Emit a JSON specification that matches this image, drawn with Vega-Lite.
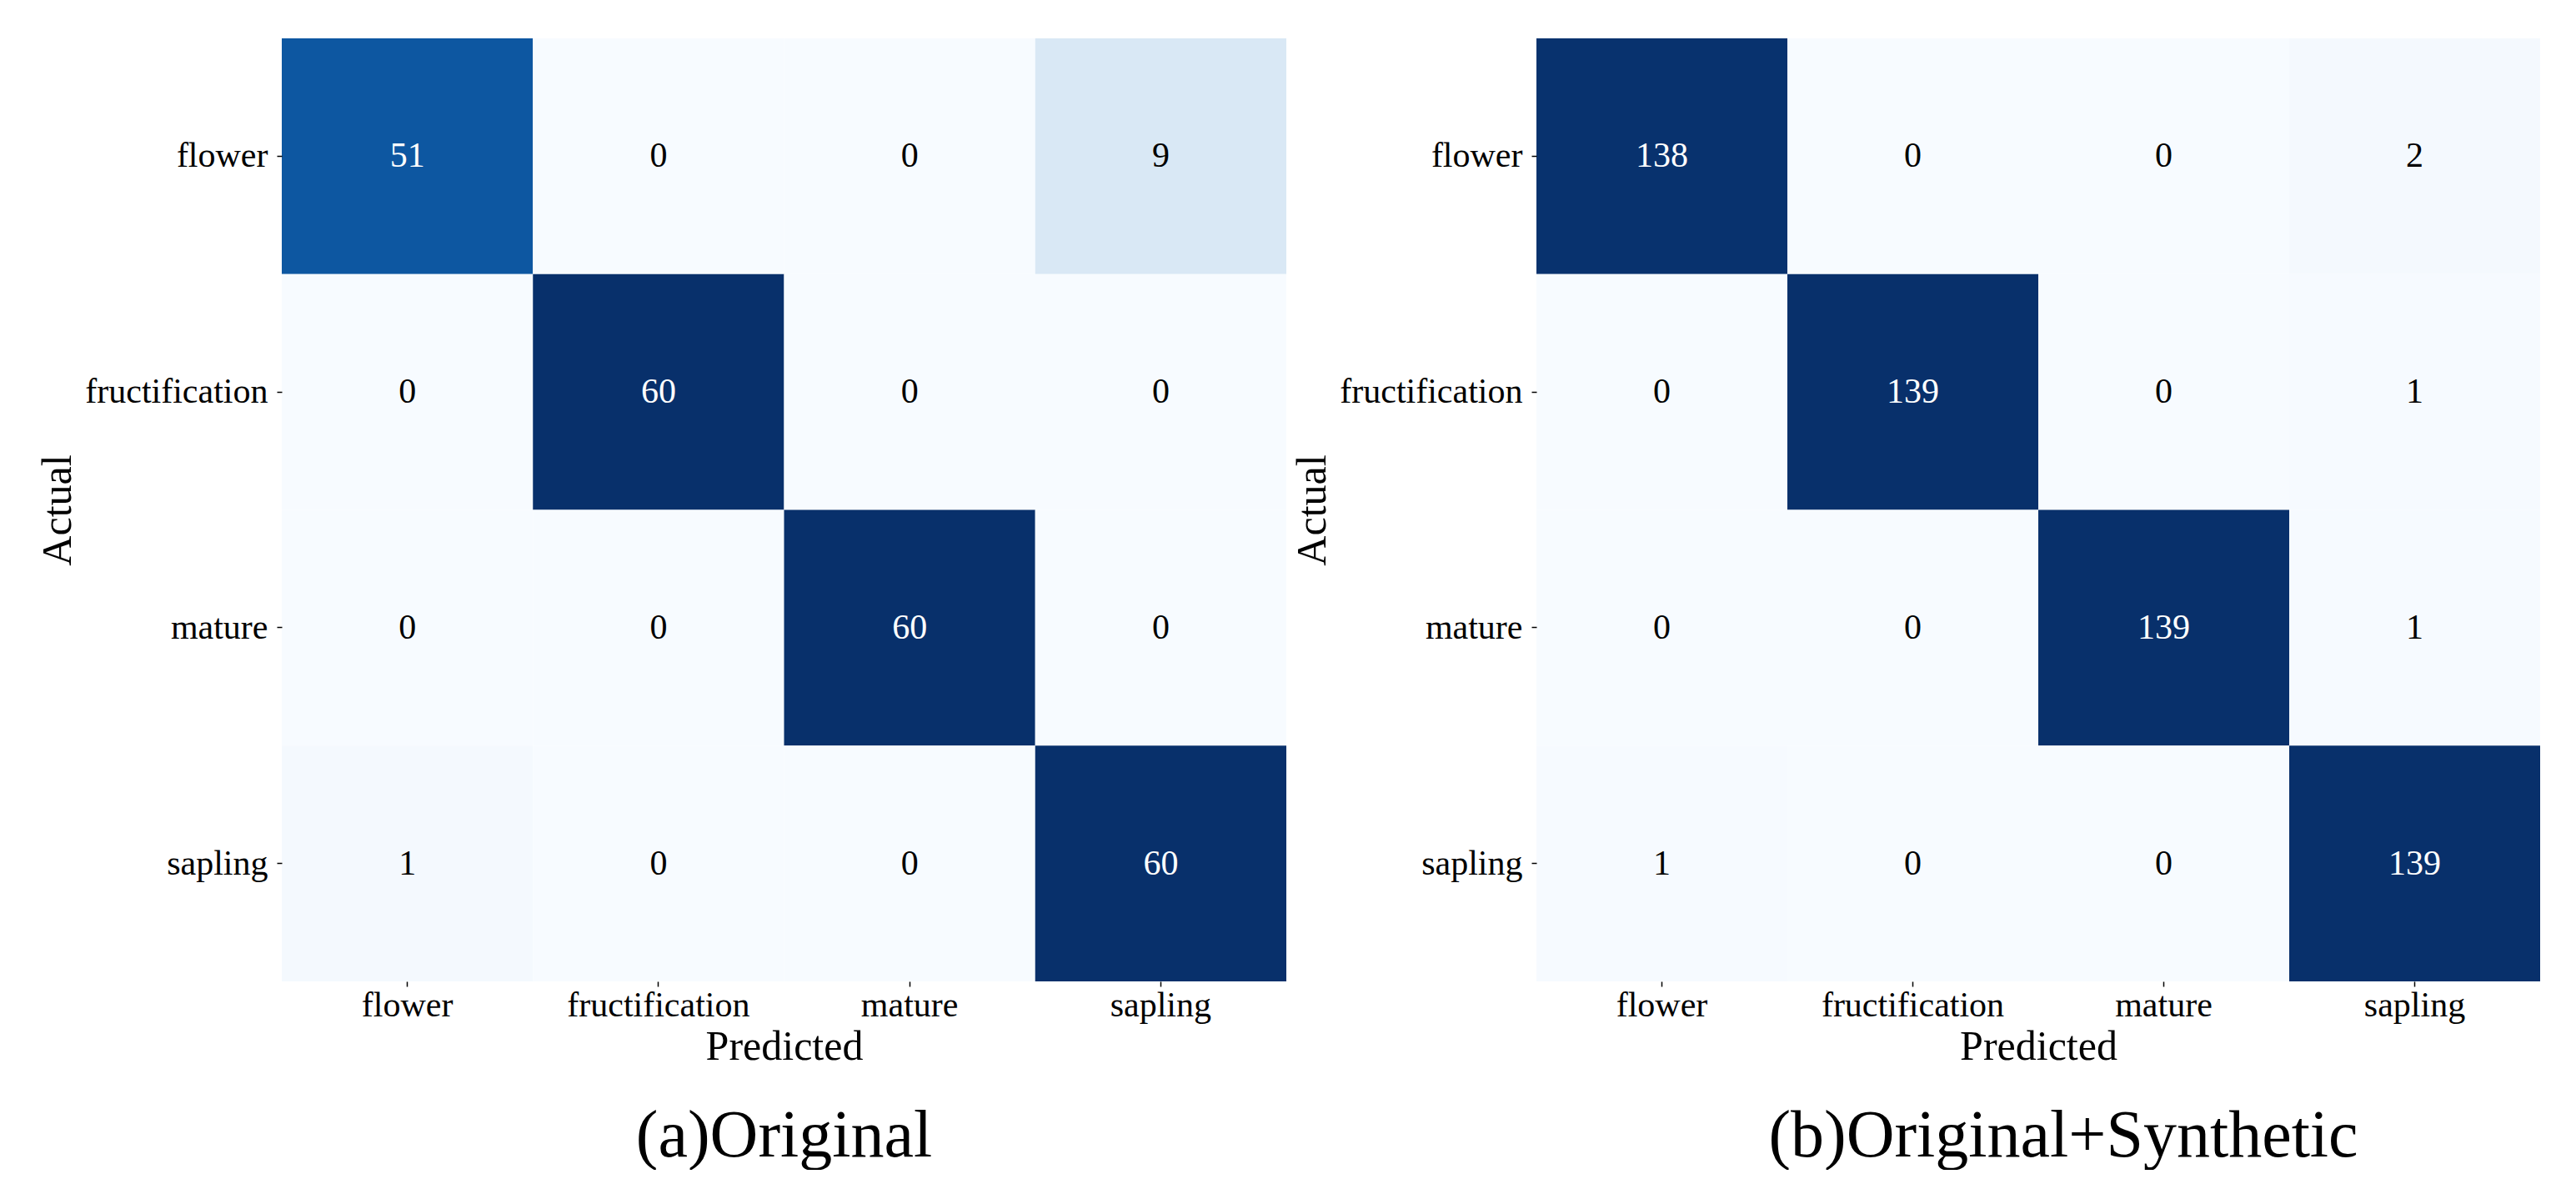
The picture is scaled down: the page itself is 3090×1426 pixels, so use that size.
{
  "$schema": "https://vega.github.io/schema/vega-lite/v6.json",
  "background": "white",
  "padding": {"left": 44, "top": 46, "right": 0, "bottom": 0},
  "config": {
    "font": "Liberation Serif",
    "view": {"stroke": null},
    "concat": {"spacing": 6},
    "axis": {
      "domain": false,
      "grid": false,
      "tickSize": 6,
      "tickColor": "black",
      "tickWidth": 1.5,
      "labelFont": "Liberation Serif",
      "labelFontSize": 42,
      "labelColor": "black",
      "labelLimit": 0,
      "titleFont": "Liberation Serif",
      "titleFontSize": 50,
      "titleFontWeight": "normal",
      "titleColor": "black"
    },
    "axisX": {"labelPadding": 2, "titlePadding": 4, "labelAngle": 0},
    "axisY": {"labelPadding": 11, "titlePadding": 44}
  },
  "datasets": {
    "a": [
      {"actual": "flower", "predicted": "flower", "count": 51},
      {"actual": "flower", "predicted": "fructification", "count": 0},
      {"actual": "flower", "predicted": "mature", "count": 0},
      {"actual": "flower", "predicted": "sapling", "count": 9},
      {"actual": "fructification", "predicted": "flower", "count": 0},
      {"actual": "fructification", "predicted": "fructification", "count": 60},
      {"actual": "fructification", "predicted": "mature", "count": 0},
      {"actual": "fructification", "predicted": "sapling", "count": 0},
      {"actual": "mature", "predicted": "flower", "count": 0},
      {"actual": "mature", "predicted": "fructification", "count": 0},
      {"actual": "mature", "predicted": "mature", "count": 60},
      {"actual": "mature", "predicted": "sapling", "count": 0},
      {"actual": "sapling", "predicted": "flower", "count": 1},
      {"actual": "sapling", "predicted": "fructification", "count": 0},
      {"actual": "sapling", "predicted": "mature", "count": 0},
      {"actual": "sapling", "predicted": "sapling", "count": 60}
    ],
    "b": [
      {"actual": "flower", "predicted": "flower", "count": 138},
      {"actual": "flower", "predicted": "fructification", "count": 0},
      {"actual": "flower", "predicted": "mature", "count": 0},
      {"actual": "flower", "predicted": "sapling", "count": 2},
      {"actual": "fructification", "predicted": "flower", "count": 0},
      {"actual": "fructification", "predicted": "fructification", "count": 139},
      {"actual": "fructification", "predicted": "mature", "count": 0},
      {"actual": "fructification", "predicted": "sapling", "count": 1},
      {"actual": "mature", "predicted": "flower", "count": 0},
      {"actual": "mature", "predicted": "fructification", "count": 0},
      {"actual": "mature", "predicted": "mature", "count": 139},
      {"actual": "mature", "predicted": "sapling", "count": 1},
      {"actual": "sapling", "predicted": "flower", "count": 1},
      {"actual": "sapling", "predicted": "fructification", "count": 0},
      {"actual": "sapling", "predicted": "mature", "count": 0},
      {"actual": "sapling", "predicted": "sapling", "count": 139}
    ]
  },
  "resolve": {"scale": {"color": "independent"}},
  "hconcat": [
    {
      "data": {"name": "a"},
      "width": 1205,
      "height": 1131,
      "title": {"text": "(a)Original", "orient": "bottom", "anchor": "middle", "fontSize": 80, "fontWeight": "normal", "font": "Liberation Serif", "color": "black", "offset": 44},
      "encoding": {
        "x": {"field": "predicted", "type": "nominal", "sort": "ascending", "scale": {"paddingInner": 0, "paddingOuter": 0}, "axis": {"title": "Predicted"}},
        "y": {"field": "actual", "type": "nominal", "sort": "ascending", "scale": {"paddingInner": 0, "paddingOuter": 0}, "axis": {"title": "Actual"}}
      },
      "layer": [
        {
          "mark": {"type": "rect"},
          "encoding": {
            "color": {
              "field": "count", "type": "quantitative", "legend": null,
              "scale": {
                "domain": [0, 7.5, 15, 22.5, 30, 37.5, 45, 52.5, 60],
                "range": ["#f7fbff", "#deebf7", "#c6dbef", "#9ecae1", "#6baed6", "#4292c6", "#2171b5", "#08519c", "#08306b"],
                "interpolate": "rgb"
              }
            }
          }
        },
        {
          "mark": {"type": "text", "fontSize": 42, "font": "Liberation Serif"},
          "encoding": {
            "text": {"field": "count", "type": "quantitative"},
            "color": {"condition": {"test": "datum.count > 30", "value": "white"}, "value": "black"}
          }
        }
      ]
    },
    {
      "data": {"name": "b"},
      "width": 1204,
      "height": 1131,
      "title": {"text": "(b)Original+Synthetic", "orient": "bottom", "anchor": "middle", "fontSize": 80, "fontWeight": "normal", "font": "Liberation Serif", "color": "black", "offset": 44, "dx": 30},
      "encoding": {
        "x": {"field": "predicted", "type": "nominal", "sort": "ascending", "scale": {"paddingInner": 0, "paddingOuter": 0}, "axis": {"title": "Predicted"}},
        "y": {"field": "actual", "type": "nominal", "sort": "ascending", "scale": {"paddingInner": 0, "paddingOuter": 0}, "axis": {"title": "Actual"}}
      },
      "layer": [
        {
          "mark": {"type": "rect"},
          "encoding": {
            "color": {
              "field": "count", "type": "quantitative", "legend": null,
              "scale": {
                "domain": [0, 17.375, 34.75, 52.125, 69.5, 86.875, 104.25, 121.625, 139],
                "range": ["#f7fbff", "#deebf7", "#c6dbef", "#9ecae1", "#6baed6", "#4292c6", "#2171b5", "#08519c", "#08306b"],
                "interpolate": "rgb"
              }
            }
          }
        },
        {
          "mark": {"type": "text", "fontSize": 42, "font": "Liberation Serif"},
          "encoding": {
            "text": {"field": "count", "type": "quantitative"},
            "color": {"condition": {"test": "datum.count > 70", "value": "white"}, "value": "black"}
          }
        }
      ]
    }
  ]
}
